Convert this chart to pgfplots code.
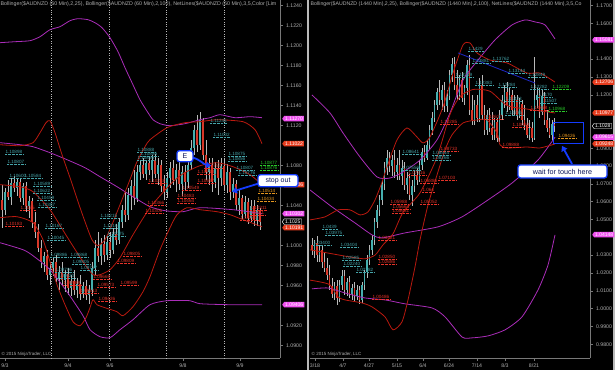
\documentclass[border=0pt]{standalone}
\usepackage{fontspec}
\setmainfont{Liberation Sans}
\usepackage{pgfplots}
\pgfplotsset{compat=1.18}
\usepackage{pgfplotstable}
\usetikzlibrary{shapes.symbols,arrows.meta}

\definecolor{upc}{RGB}{70,175,175}
\definecolor{dnc}{RGB}{215,55,40}
\definecolor{wick}{RGB}{185,185,185}
\definecolor{magband}{RGB}{170,45,185}
\definecolor{redband}{RGB}{185,25,15}
\definecolor{tealtxt}{RGB}{70,165,170}
\definecolor{redtxt}{RGB}{230,50,40}
\definecolor{grntxt}{RGB}{40,200,40}
\definecolor{orgtxt}{RGB}{230,150,30}
\definecolor{tagmag}{RGB}{240,80,240}
\definecolor{tagred}{RGB}{230,60,30}
\definecolor{cblue}{RGB}{20,60,255}
\definecolor{navy}{RGB}{10,20,90}
\definecolor{trend}{RGB}{30,40,200}
\definecolor{axgray}{RGB}{120,120,120}
\definecolor{txtgray}{RGB}{175,175,175}

\newcommand\tk{\fontsize{5.2}{6}\selectfont}
\newcommand\lb{\fontsize{4.6}{5}\selectfont}
\newcommand\tg{\fontsize{5}{6}\selectfont}

\tikzset{
 lbase/.style={font=\lb, inner sep=0.3pt, anchor=west},
 lt/.style={lbase, text=tealtxt, append after command={(\tikzlastnode.south west) edge[draw=tealtxt, densely dotted, line width=0.35pt] (\tikzlastnode.south east)}},
 lr/.style={lbase, text=redtxt, append after command={(\tikzlastnode.south west) edge[draw=redtxt, densely dotted, line width=0.35pt] (\tikzlastnode.south east)}},
 lg/.style={lbase, text=grntxt, append after command={(\tikzlastnode.south west) edge[draw=grntxt, densely dotted, line width=0.35pt] (\tikzlastnode.south east)}},
 lo/.style={lbase, text=orgtxt, append after command={(\tikzlastnode.south west) edge[draw=orgtxt, densely dotted, line width=0.35pt] (\tikzlastnode.south east)}},
 tag/.style={shape=signal, signal to=west, signal pointer angle=110, inner xsep=1pt, inner ysep=1pt, font=\tg, anchor=west, text=white},
 callout/.style={draw=cblue, line width=1.3pt, fill=white, rounded corners=2.5pt, inner sep=0pt, text=navy},
 carrow/.style={cblue, line width=1.8pt, -{Triangle[length=5pt,width=6.5pt]}}
}
\newcommand\Lt[3]{\node[lt] at (axis cs:#1,#2) {#3};}
\newcommand\Lr[3]{\node[lr] at (axis cs:#1,#2) {#3};}
\newcommand\Lg[3]{\node[lg] at (axis cs:#1,#2) {#3};}
\newcommand\Lo[3]{\node[lo] at (axis cs:#1,#2) {#3};}

\newcommand\candles[2]{%
\addplot[draw=none, mark=none, forget plot, error bars/.cd, y dir=both, y explicit, error mark=none, error bar style={draw=wick, line width=0.45pt}]
 table[x=x, y expr={(\thisrow{h}+\thisrow{l})/2}, y error expr={(\thisrow{h}-\thisrow{l})/2}] {#1};
\addplot[draw=none, mark=none, forget plot, error bars/.cd, y dir=both, y explicit, error mark=none, error bar style={draw=upc, line width=#2}]
 table[x=x, y expr={\thisrow{c}>\thisrow{o} ? (\thisrow{o}+\thisrow{c})/2 : nan}, y error expr={max(abs(\thisrow{c}-\thisrow{o})/2,0.00003)}] {#1};
\addplot[draw=none, mark=none, forget plot, error bars/.cd, y dir=both, y explicit, error mark=none, error bar style={draw=dnc, line width=#2}]
 table[x=x, y expr={\thisrow{c}<\thisrow{o} ? (\thisrow{o}+\thisrow{c})/2 : nan}, y error expr={max(abs(\thisrow{c}-\thisrow{o})/2,0.00003)}] {#1};
}

\pgfplotsset{
 chart/.style={
  scale only axis, width=280pt, height=358pt, anchor=south west,
  axis background/.style={fill=black},
  axis x line*=bottom, axis y line*=right,
  axis line style={draw=axgray, line width=0.6pt, -},
  tick style={draw=axgray, line width=0.5pt},
  tick align=outside, major tick length=2.5pt, minor tick length=1.5pt,
  ticklabel style={font=\tk, text=txtgray},
  yticklabel style={/pgf/number format/.cd, fixed, fixed zerofill, precision=4, assume math mode=true},
  scaled y ticks=false,
  clip=false,
 },
 magline/.style={magband, line width=0.8pt, mark=none, smooth, tension=0.4},
 redline/.style={redband, line width=0.8pt, mark=none, smooth, tension=0.4},
}

\pgfplotstableread{
x o h l c
2 1.1046 1.1061 1.1018 1.1036
5 1.1036 1.1058 1.1031 1.1054
8 1.1054 1.1066 1.1046 1.1049
11 1.1049 1.1068 1.1041 1.1063
14 1.1063 1.1070 1.1054 1.1058
17 1.1058 1.1067 1.1050 1.1064
20 1.1064 1.1068 1.1044 1.1048
23 1.1048 1.1063 1.1041 1.1060
26 1.1060 1.1064 1.1034 1.1040
29 1.1040 1.1050 1.1028 1.1045
32 1.1045 1.1048 1.1018 1.1024
35 1.1024 1.1034 1.1008 1.1014
38 1.1014 1.1022 1.0994 1.0998
41 1.0998 1.1006 1.0978 1.0984
44 1.0984 1.0994 1.0974 1.0990
47 1.0990 1.0996 1.0966 1.0971
50 1.0971 1.0984 1.0961 1.0978
53 1.0978 1.0988 1.0970 1.0984
56 1.0984 1.0991 1.0964 1.0968
59 1.0968 1.0980 1.0956 1.0974
62 1.0974 1.0984 1.0961 1.0966
65 1.0966 1.0976 1.0954 1.0972
68 1.0972 1.0978 1.0951 1.0958
71 1.0958 1.0971 1.0950 1.0965
74 1.0965 1.0976 1.0951 1.0956
77 1.0956 1.0968 1.0948 1.0962
80 1.0962 1.0971 1.0946 1.0952
83 1.0952 1.0964 1.0948 1.0960
86 1.0960 1.0966 1.0946 1.0951
89 1.0951 1.0961 1.0942 1.0956
92 1.0956 1.0984 1.0950 1.0978
95 1.0978 1.1006 1.0971 1.0998
98 1.0998 1.1014 1.0984 1.0990
101 1.0990 1.1008 1.0981 1.1002
104 1.1002 1.1011 1.0984 1.0991
107 1.0991 1.1010 1.0986 1.1004
110 1.1004 1.1014 1.0988 1.0996
113 1.0996 1.1018 1.0992 1.1012
116 1.1012 1.1022 1.1001 1.1006
119 1.1006 1.1028 1.1002 1.1024
122 1.1024 1.1041 1.1018 1.1036
125 1.1036 1.1054 1.1024 1.1031
128 1.1031 1.1058 1.1026 1.1051
131 1.1051 1.1066 1.1036 1.1060
134 1.1060 1.1076 1.1041 1.1048
137 1.1048 1.1081 1.1044 1.1074
140 1.1074 1.1086 1.1066 1.1081
143 1.1081 1.1088 1.1068 1.1072
146 1.1072 1.1086 1.1066 1.1083
149 1.1083 1.1090 1.1071 1.1076
152 1.1076 1.1091 1.1064 1.1086
155 1.1086 1.1092 1.1068 1.1072
158 1.1072 1.1088 1.1061 1.1081
161 1.1081 1.1086 1.1054 1.1060
164 1.1060 1.1071 1.1046 1.1054
167 1.1054 1.1074 1.1048 1.1068
170 1.1068 1.1084 1.1058 1.1078
173 1.1078 1.1086 1.1061 1.1066
176 1.1066 1.1082 1.1054 1.1076
179 1.1076 1.1086 1.1056 1.1062
182 1.1062 1.1080 1.1050 1.1074
185 1.1074 1.1081 1.1056 1.1064
188 1.1064 1.1086 1.1058 1.1081
191 1.1081 1.1106 1.1076 1.1098
194 1.1098 1.1121 1.1091 1.1116
197 1.1116 1.1131 1.1094 1.1101
200 1.1101 1.1134 1.1096 1.1126
203 1.1126 1.1128 1.1086 1.1091
206 1.1091 1.1106 1.1066 1.1074
209 1.1074 1.1088 1.1061 1.1081
212 1.1081 1.1088 1.1054 1.1064
215 1.1064 1.1084 1.1058 1.1078
218 1.1078 1.1086 1.1051 1.1068
221 1.1068 1.1088 1.1060 1.1080
224 1.1080 1.1088 1.1056 1.1061
227 1.1061 1.1082 1.1053 1.1074
230 1.1074 1.1078 1.1046 1.1054
233 1.1054 1.1068 1.1048 1.1062
236 1.1062 1.1066 1.1036 1.1041
239 1.1041 1.1056 1.1031 1.1048
242 1.1048 1.1051 1.1026 1.1032
245 1.1032 1.1050 1.1028 1.1044
248 1.1044 1.1048 1.1022 1.1028
251 1.1028 1.1046 1.1024 1.1040
254 1.1040 1.1046 1.1020 1.1026
257 1.1026 1.1041 1.1020 1.1036
260 1.1036 1.1038 1.1016 1.1024
}\leftdata

\pgfplotstableread{
x o h l c
312 1.0358 1.0397 1.0301 1.0330
314.5 1.0330 1.0386 1.0285 1.0369
317 1.0369 1.0408 1.0262 1.0301
319.5 1.0301 1.0358 1.0262 1.0330
322 1.0330 1.0352 1.0229 1.0262
324.5 1.0262 1.0318 1.0206 1.0229
327 1.0229 1.0285 1.0161 1.0189
329.5 1.0189 1.0245 1.0105 1.0128
332 1.0128 1.0172 1.0060 1.0083
334.5 1.0083 1.0150 1.0049 1.0128
337 1.0128 1.0161 1.0021 1.0060
339.5 1.0060 1.0161 1.0038 1.0133
342 1.0133 1.0217 1.0105 1.0184
344.5 1.0184 1.0217 1.0077 1.0105
347 1.0105 1.0172 1.0071 1.0150
349.5 1.0150 1.0184 1.0060 1.0083
352 1.0083 1.0139 1.0049 1.0116
354.5 1.0116 1.0150 1.0038 1.0071
357 1.0071 1.0133 1.0049 1.0105
359.5 1.0105 1.0128 1.0027 1.0049
362 1.0049 1.0150 1.0032 1.0133
364.5 1.0133 1.0217 1.0105 1.0206
367 1.0206 1.0301 1.0172 1.0273
369.5 1.0273 1.0358 1.0245 1.0330
372 1.0330 1.0414 1.0301 1.0386
374.5 1.0386 1.0509 1.0358 1.0487
377 1.0487 1.0582 1.0453 1.0554
379.5 1.0554 1.0638 1.0520 1.0610
382 1.0610 1.0722 1.0582 1.0700
384.5 1.0700 1.0823 1.0666 1.0790
387 1.0790 1.0891 1.0750 1.0846
389.5 1.0846 1.0879 1.0767 1.0801
392 1.0801 1.0862 1.0745 1.0834
394.5 1.0834 1.0891 1.0733 1.0767
397 1.0767 1.0846 1.0722 1.0806
399.5 1.0806 1.0891 1.0722 1.0745
402 1.0745 1.0834 1.0694 1.0790
404.5 1.0790 1.0823 1.0666 1.0694
407 1.0694 1.0767 1.0644 1.0733
409.5 1.0733 1.0756 1.0610 1.0638
412 1.0638 1.0722 1.0576 1.0689
414.5 1.0689 1.0778 1.0655 1.0750
417 1.0750 1.0790 1.0694 1.0722
419.5 1.0722 1.0834 1.0711 1.0806
422 1.0806 1.0902 1.0778 1.0879
424.5 1.0879 1.0919 1.0823 1.0846
427 1.0846 1.0947 1.0834 1.0919
429.5 1.0919 1.1031 1.0891 1.1003
432 1.1003 1.1104 1.0975 1.1070
434.5 1.1070 1.1171 1.1048 1.1143
437 1.1143 1.1238 1.1115 1.1216
439.5 1.1216 1.1283 1.1143 1.1171
442 1.1171 1.1255 1.1115 1.1227
444.5 1.1227 1.1272 1.1104 1.1137
447 1.1137 1.1227 1.1104 1.1193
449.5 1.1193 1.1339 1.1171 1.1311
452 1.1311 1.1407 1.1272 1.1373
454.5 1.1373 1.1412 1.1227 1.1255
457 1.1255 1.1339 1.1171 1.1199
459.5 1.1199 1.1311 1.1171 1.1283
462 1.1283 1.1328 1.1160 1.1182
464.5 1.1182 1.1255 1.1143 1.1238
467 1.1238 1.1395 1.1199 1.1367
469.5 1.1367 1.1423 1.1087 1.1115
472 1.1115 1.1199 1.1031 1.1059
474.5 1.1059 1.1171 1.1031 1.1143
477 1.1143 1.1199 1.1048 1.1070
479.5 1.1070 1.1294 1.1048 1.1255
482 1.1255 1.1311 1.1059 1.1087
484.5 1.1087 1.1143 1.0975 1.1003
487 1.1003 1.1115 1.0975 1.1087
489.5 1.1087 1.1126 1.0991 1.1014
492 1.1014 1.1104 1.0947 1.0975
494.5 1.0975 1.1070 1.0947 1.1048
497 1.1048 1.1070 1.0935 1.0958
499.5 1.0958 1.1115 1.0935 1.1087
502 1.1087 1.1199 1.1059 1.1171
504.5 1.1171 1.1255 1.1126 1.1216
507 1.1216 1.1272 1.1104 1.1143
509.5 1.1143 1.1238 1.1115 1.1199
512 1.1199 1.1227 1.1087 1.1115
514.5 1.1115 1.1199 1.1087 1.1171
517 1.1171 1.1199 1.1059 1.1087
519.5 1.1087 1.1182 1.1070 1.1149
522 1.1149 1.1171 1.1031 1.1059
524.5 1.1059 1.1143 1.1003 1.1031
527 1.1031 1.1070 1.0958 1.0975
529.5 1.0975 1.1059 1.0947 1.1014
532 1.1014 1.1048 1.0935 1.0958
534.5 1.0958 1.1412 1.0947 1.1171
537 1.1171 1.1238 1.1126 1.1199
539.5 1.1199 1.1238 1.1070 1.1104
542 1.1104 1.1227 1.1087 1.1193
544.5 1.1193 1.1216 1.1031 1.1059
547 1.1059 1.1115 1.0991 1.1014
549.5 1.1014 1.1070 1.0958 1.0975
552 1.0975 1.1059 1.0947 1.1036
554.5 1.1036 1.1070 1.0991 1.1025
}\rightdata

\begin{document}
\begin{tikzpicture}
\fill[black] (0,0) rectangle (615pt,370pt);
\useasboundingbox (0,0) rectangle (615pt,370pt);
\fill[gray!55] (306.5pt,0) rectangle (308.5pt,370pt);
\fill[gray!55] (612.5pt,0) rectangle (615pt,370pt);

% ---------------- left panel (60 min) ----------------
\begin{axis}[chart, at={(0pt,12pt)},
  xmin=0, xmax=280, ymin=1.08877, ymax=1.12457,
  ytick={1.090,1.092,1.096,1.098,1.100,1.104,1.108,1.112,1.114,1.116,1.118,1.120,1.122,1.124},
  xtick={5,68,110,183,240}, xticklabels={9/3,9/4,9/6,9/8,9/9},
  extra x ticks={51.5,109,166,224}, extra x tick labels={},
  extra x tick style={grid=major, major grid style={draw=gray!55, dotted, line width=0.45pt}, major tick length=0pt}]
\candles{\leftdata}{2pt}
\addplot[magline] coordinates {(0,1.1203) (15,1.1204) (30,1.1205) (40,1.1209) (50,1.1216) (60,1.1219) (70,1.1225) (78,1.1227) (88,1.1226) (95,1.1223) (102,1.1218) (110,1.1208) (118,1.1194) (125,1.1178) (132,1.1163) (140,1.1146) (148,1.1133) (153,1.1126) (160,1.1122) (170,1.1120) (185,1.1122) (200,1.1126) (210,1.1128) (220,1.1131) (235,1.1128) (250,1.1129) (262,1.1128)};
\addplot[magline] coordinates {(0,1.1103) (20,1.1101) (33,1.1099) (50,1.1093) (67,1.1086) (85,1.1078) (100,1.1069) (117,1.1059) (133,1.1049) (150,1.1039) (165,1.1035) (183,1.1034) (200,1.1038) (233,1.1036) (262,1.1032)};
\addplot[magline] coordinates {(0,1.1003) (23,1.0996) (33,1.0990) (50,1.0976) (67,1.0954) (83,1.0930) (90,1.0916) (100,1.0909) (110,1.0908) (120,1.0916) (133,1.0926) (150,1.0941) (167,1.0945) (190,1.0945) (200,1.0942) (230,1.0941) (262,1.0941)};
\addplot[redline] coordinates {(0,1.1101) (20,1.1100) (33,1.1103) (40,1.1113) (46,1.1123) (50,1.1125) (55,1.1113) (62,1.1091) (70,1.1068) (78,1.1044) (85,1.1024) (92,1.1006) (98,1.1000) (105,1.1006) (112,1.1021) (120,1.1041) (128,1.1061) (137,1.1084) (145,1.1099) (150,1.1106) (167,1.1118) (185,1.1123) (200,1.1124) (217,1.1126) (243,1.1124) (255,1.1116) (262,1.1102)};
\addplot[redline] coordinates {(0,1.1061) (20,1.1059) (33,1.1054) (50,1.1036) (67,1.1009) (83,1.0984) (93,1.0971) (100,1.0971) (110,1.0976) (120,1.0988) (133,1.1011) (150,1.1038) (170,1.1061) (183,1.1072) (200,1.1080) (217,1.1083) (233,1.1079) (250,1.1071) (262,1.1061)};
\addplot[redline] coordinates {(0,1.1028) (17,1.1029) (33,1.1023) (43,1.1006) (50,1.0984) (57,1.0961) (65,1.0941) (73,1.0924) (80,1.0920) (86,1.0928) (90,1.0938) (93,1.0946) (97,1.0941) (105,1.0938) (117,1.0934) (123,1.0930) (133,1.0939) (143,1.0954) (150,1.0969) (160,1.0996) (170,1.1018) (177,1.1031) (187,1.1038) (200,1.1036) (217,1.1034) (230,1.1031) (243,1.1026) (262,1.1019)};
% price labels
\Lt{5}{1.1094}{1.10898}
\Lt{7}{1.1084}{1.10807}
\Lt{9}{1.1070}{1.10600}
\Lt{24}{1.1070}{1.10584}
\Lt{33}{1.1062}{1.10589}
\Lt{33}{1.1055}{1.10622}
\Lt{37}{1.1048}{1.10459}
\Lt{38}{1.1041}{1.10387}
\Lt{45}{1.1020}{1.10167}
\Lt{47}{1.1008}{1.10045}
\Lt{100}{1.1030}{1.10215}
\Lt{103}{1.1020}{1.1016}
\Lt{107}{1.1012}{1.10075}
\Lt{50}{1.0991}{1.09886}
\Lt{70}{1.0991}{1.09868}
\Lt{72}{1.0984}{1.09805}
\Lt{80}{1.0978}{1.09737}
\Lt{55}{1.0976}{1.09706}
\Lt{57}{1.0970}{1.09620}
\Lt{137}{1.1096}{1.10888}
\Lt{140}{1.1092}{1.10886}
\Lt{137}{1.1088}{1.10866}
\Lt{210}{1.1125}{1.11245}
\Lt{213}{1.1111}{1.11002}
\Lt{228}{1.1092}{1.10875}
\Lt{228}{1.1087}{1.10856}
\Lt{236}{1.1078}{1.10807}
\Lt{238}{1.1073}{1.10776}
\Lg{260}{1.1083}{1.10877}
\Lg{260}{1.1078}{1.10876}
\Lo{258}{1.1055}{1.10514}
\Lo{257}{1.1047}{1.10434}
\Lr{20}{1.1038}{1.1035}
\Lr{5}{1.1022}{1.10183}
\Lr{148}{1.1065}{1.10218}
\Lr{147}{1.1043}{1.10366}
\Lr{145}{1.1035}{1.10306}
\Lr{182}{1.1058}{1.10549}
\Lr{177}{1.1050}{1.10483}
\Lr{177}{1.1045}{1.10464}
\Lr{197}{1.1065}{1.10697}
\Lr{197}{1.1074}{1.10718}
\Lr{204}{1.1080}{1.10754}
\Lr{250}{1.1038}{1.10311}
\Lr{247}{1.1033}{1.10241}
\Lr{240}{1.1028}{1.10243}
\Lr{123}{1.0992}{1.09805}
\Lr{117}{1.0985}{1.09809}
\Lr{93}{1.0969}{1.09669}
\Lr{97}{1.0961}{1.09573}
\Lr{120}{1.0963}{1.09599}
\Lr{98}{1.0947}{1.09426}
\Lr{80}{1.0955}{1.09613}
\Lr{63}{1.0963}{1.09589}
% anchor points for tags and callouts
\coordinate (LtA) at (axis cs:282,1.1127);
\coordinate (LtB) at (axis cs:282,1.1102);
\coordinate (LtC) at (axis cs:282,1.1061);
\coordinate (LtD) at (axis cs:282,1.1032);
\coordinate (LtE) at (axis cs:282,1.1024);
\coordinate (LtF) at (axis cs:282,1.1018);
\coordinate (LtG) at (axis cs:282,1.0941);
\coordinate (Ebox) at (axis cs:185,1.10895);
\coordinate (Ea) at (axis cs:193,1.1088);
\coordinate (Eb) at (axis cs:211,1.1080);
\coordinate (Sbox) at (axis cs:278,1.1065);
\coordinate (Sa) at (axis cs:258,1.1062);
\coordinate (Sb) at (axis cs:232,1.1054);
\end{axis}

% ---------------- right panel (1440 min) ----------------
\begin{axis}[chart, at={(310pt,12pt)},
  xmin=310, xmax=590, ymin=0.97230, ymax=1.17320,
  ytick={0.98,0.99,1.00,1.01,1.02,1.03,1.05,1.06,1.07,1.08,1.09,1.12,1.13,1.14,1.16,1.17},
  xtick={315,343,369,397,423,449,477,505,534}, xticklabels={3/18,4/7,4/27,5/15,6/4,6/24,7/14,8/3,8/21},
  minor x tick num=11]
\candles{\rightdata}{1.6pt}
\addplot[magline] coordinates {(312,1.1199) (330,1.1098) (343,1.0986) (360,1.0851) (377,1.0739) (390,1.0733) (403,1.0767) (420,1.0834) (437,1.0947) (450,1.1098) (463,1.1283) (478,1.1395) (495,1.1508) (512,1.1592) (525,1.1620) (535,1.1609) (545,1.1592) (555,1.1513)};
\addplot[magline] coordinates {(310,1.0666) (332,1.0571) (355,1.0481) (372,1.0414) (382,1.0397) (405,1.0425) (438,1.0459) (462,1.0515) (488,1.0610) (512,1.0705) (538,1.0834) (555,1.0962)};
\addplot[magline] coordinates {(312,1.0111) (328,1.0116) (345,1.0088) (365,1.0060) (385,1.0049) (405,1.0027) (432,1.0004) (445,0.9954) (462,0.9841) (472,0.9836) (488,0.9847) (505,0.9881) (522,0.9954) (538,1.0105) (548,1.0245) (555,1.0414)};
\addplot[redline] coordinates {(310,1.0498) (325,1.0515) (338,1.0554) (350,1.0554) (360,1.0526) (368,1.0543) (375,1.0610) (381,1.0694) (387,1.0795) (397,1.0947) (407,1.1014) (417,1.0963) (423,1.0930) (430,1.0963) (443,1.1132) (453,1.1322) (463,1.1480) (470,1.1491) (477,1.1435) (490,1.1395) (507,1.1379) (527,1.1322) (540,1.1322) (555,1.1271)};
\addplot[redline] coordinates {(310,1.0330) (330,1.0310) (350,1.0290) (365,1.0280) (375,1.0300) (383,1.0358) (393,1.0420) (403,1.0540) (420,1.0650) (437,1.0850) (450,1.1090) (460,1.1190) (473,1.1230) (490,1.1220) (507,1.1140) (527,1.1120) (540,1.1110) (555,1.1098)};
\addplot[redline] coordinates {(310,1.0160) (320,1.0150) (330,1.0133) (338,1.0066) (345,1.0049) (362,1.0032) (372,1.0010) (385,0.9954) (393,0.9881) (402,0.9926) (408,1.0049) (415,1.0234) (420,1.0386) (428,1.0582) (437,1.0750) (445,1.0891) (452,1.0975) (463,1.1042) (477,1.1059) (487,1.1059) (497,1.0986) (500,1.0919) (507,1.0902) (527,1.0907) (540,1.0902) (555,1.0924)};
\addplot[trend, line width=0.8pt, mark=none] coordinates {(458,1.1435) (535,1.1266)};
% price labels
\Lt{468}{1.1457}{1.1429}
\Lt{472}{1.1390}{1.13881}
\Lt{492}{1.1401}{1.13762}
\Lt{455}{1.1311}{1.13349}
\Lt{508}{1.1334}{1.13144}
\Lt{528}{1.1311}{1.12849}
\Lt{475}{1.1266}{1.12383}
\Lt{498}{1.1255}{1.12284}
\Lt{530}{1.1244}{1.12282}
\Lt{505}{1.1177}{1.11423}
\Lt{538}{1.1199}{1.1170}
\Lt{540}{1.1165}{1.11507}
\Lt{505}{1.1098}{1.10735}
\Lg{552}{1.1244}{1.12209}
\Lg{548}{1.1121}{1.10968}
\Lr{530}{1.1126}{1.10868}
\Lr{485}{1.1076}{1.10627}
\Lr{512}{1.1031}{1.10093}
\Lr{502}{1.0919}{1.09888}
\Lr{440}{1.1048}{1.10285}
\Lo{558}{1.0969}{1.09426}
\Lr{440}{1.0896}{1.08733}
\Lt{432}{1.0874}{1.08544}
\Lt{432}{1.0846}{1.08266}
\Lt{402}{1.0879}{1.08641}
\Lt{402}{1.0790}{1.07556}
\Lr{438}{1.0733}{1.07103}
\Lr{408}{1.0762}{1.07316}
\Lr{420}{1.0717}{1.06886}
\Lr{422}{1.0666}{1.064}
\Lr{390}{1.0599}{1.05988}
\Lr{392}{1.0571}{1.05664}
\Lr{392}{1.0548}{1.05631}
\Lr{420}{1.0599}{1.05052}
\Lt{322}{1.0459}{1.0439}
\Lt{325}{1.0425}{1.03975}
\Lt{313}{1.0369}{1.03400}
\Lt{340}{1.0358}{1.03404}
\Lr{378}{1.0397}{1.03421}
\Lt{342}{1.0285}{1.02585}
\Lt{343}{1.0251}{1.02240}
\Lt{356}{1.0217}{1.02182}
\Lr{378}{1.0290}{1.02850}
\Lr{378}{1.0262}{1.02686}
\Lr{372}{1.0066}{1.00486}
\coordinate (RtA) at (axis cs:592,1.1508);
\coordinate (RtB) at (axis cs:592,1.1271);
\coordinate (RtC) at (axis cs:592,1.1098);
\coordinate (RtD) at (axis cs:592,1.1025);
\coordinate (RtE) at (axis cs:592,1.0962);
\coordinate (RtF) at (axis cs:592,1.0925);
\coordinate (RtG) at (axis cs:592,1.0415);
\coordinate (Wbox) at (axis cs:562.5,1.0770);
\coordinate (Wa) at (axis cs:572,1.0812);
\coordinate (Wb) at (axis cs:562,1.0913);
\coordinate (Ba) at (axis cs:553,1.1042);
\coordinate (Bb) at (axis cs:583,1.0924);
\end{axis}

% headers and copyright
\node[anchor=north west, inner sep=0.5pt, font=\fontsize{5.3}{6}\selectfont, text=txtgray] at (0pt,369pt)
 {Bollinger(\$AUDNZD (60 Min),2,25), Bollinger(\$AUDNZD (60 Min),2,100), NetLines(\$AUDNZD (60 Min),3,5,Color [Lim};
\node[anchor=north west, inner sep=0.5pt, font=\fontsize{5.2}{6}\selectfont, text=txtgray] at (310pt,369pt)
 {Bollinger(\$AUDNZD (1440 Min),2,25), Bollinger(\$AUDNZD (1440 Min),2,100), NetLines(\$AUDNZD (1440 Min),3,5,Co};
\node[anchor=south west, inner sep=0.5pt, font=\fontsize{4.5}{5}\selectfont, text=txtgray] at (1pt,12.8pt) {© 2015 NinjaTrader, LLC};
\node[anchor=south west, inner sep=0.5pt, font=\fontsize{4.5}{5}\selectfont, text=txtgray] at (311pt,12.8pt) {© 2015 NinjaTrader, LLC};

% right-axis tags (left panel)
\node[tag, fill=tagmag] at (LtA) {1.11270};
\node[tag, fill=tagred] at (LtB) {1.11022};
\node[tag, fill=tagred] at (LtC) {1.10606};
\node[tag, fill=tagmag] at (LtD) {1.10302};
\node[tag, fill=tagred] at (LtF) {1.10191};
\node[tag, fill=black, draw=white, line width=0.4pt] at (LtE) {1.1025};
\node[tag, fill=tagmag] at (LtG) {1.09406};
% right-axis tags (right panel)
\node[tag, fill=tagmag] at (RtA) {1.15081};
\node[tag, fill=tagred] at (RtB) {1.12706};
\node[tag, fill=tagred] at (RtC) {1.10977};
\node[tag, fill=black, draw=white, line width=0.4pt] at (RtD) {1.1028};
\node[tag, fill=tagmag] at (RtE) {1.09615};
\node[tag, fill=tagred] at (RtF) {1.09248};
\node[tag, fill=tagmag] at (RtG) {1.04148};

% callouts
\draw[carrow] (Ea) to[out=-15,in=170] (Eb);
\node[callout, minimum width=16pt, minimum height=11pt, font=\fontsize{7}{8}\selectfont] at (Ebox) {E};
\draw[carrow] (Sa) -- (Sb);
\node[callout, minimum width=40pt, minimum height=12pt, font=\fontsize{7}{8}\selectfont] at (Sbox) {stop out};
\draw[cblue, line width=1pt] (Ba) rectangle (Bb);
\draw[carrow] (Wa) -- (Wb);
\node[callout, minimum width=89pt, minimum height=13pt, font=\fontsize{7.2}{8}\selectfont] at (Wbox) {wait for touch here};
\end{tikzpicture}
\end{document}
